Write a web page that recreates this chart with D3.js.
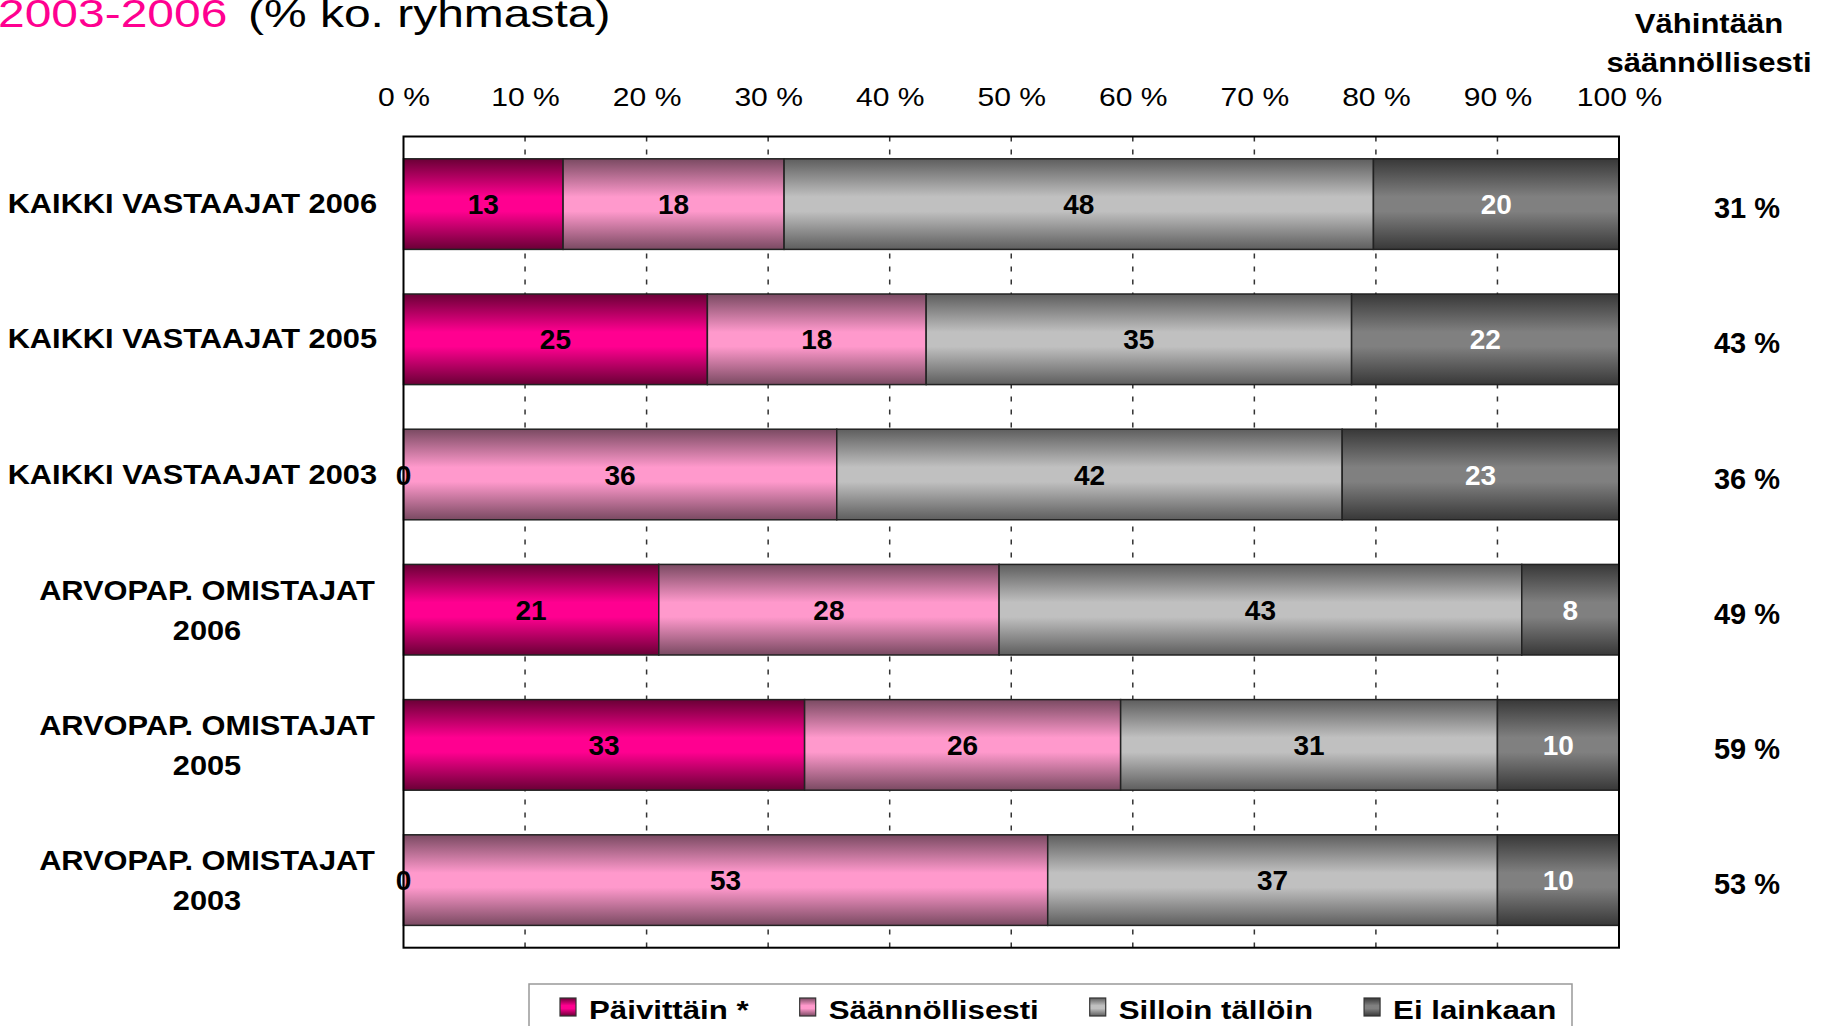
<!DOCTYPE html>
<html>
<head>
<meta charset="utf-8">
<script src="https://cdn.jsdelivr.net/npm/d3@7"></script>
<style>
  html, body { margin: 0; padding: 0; background: #ffffff; overflow: hidden; }
  svg { display: block; font-family: "Liberation Sans", Arial, sans-serif; }
</style>
</head>
<body>
<svg id="chart" width="1832" height="1026"></svg>
<script>
// ---- data ----
const categories = [
  ["KAIKKI VASTAAJAT 2006"],
  ["KAIKKI VASTAAJAT 2005"],
  ["KAIKKI VASTAAJAT 2003"],
  ["ARVOPAP. OMISTAJAT", "2006"],
  ["ARVOPAP. OMISTAJAT", "2005"],
  ["ARVOPAP. OMISTAJAT", "2003"]
];
const seriesNames = ["Päivittäin *", "Säännöllisesti", "Silloin tällöin", "Ei lainkaan"];
const paivittain      = [13, 25, 0, 21, 33, 0];
const saannollisesti  = [18, 18, 36, 28, 26, 53];
const silloinTalloin  = [48, 35, 42, 43, 31, 37];
const eiLainkaan      = [20, 22, 23, 8, 10, 10];
const vahintaan       = [31, 43, 36, 49, 59, 53];
const tickValues = [0, 10, 20, 30, 40, 50, 60, 70, 80, 90, 100];
const tickLabels = ["0 %", "10 %", "20 %", "30 %", "40 %", "50 %", "60 %", "70 %", "80 %", "90 %", "100 %"];
const titleYears = "2003-2006";
const titleRest = "(% ko. ryhmasta)";
const rightHeader = ["Vähintään", "säännöllisesti"];

// ---- styling ----
const seriesStyle = [
  { dark: "#6a0036", bright: "#ff0090", text: "#000" },
  { dark: "#7a4a62", bright: "#ff99cc", text: "#000" },
  { dark: "#5e5e5e", bright: "#c0c0c0", text: "#000" },
  { dark: "#383838", bright: "#808080", text: "#fff" }
];
const seriesData = [paivittain, saannollisesti, silloinTalloin, eiLainkaan];

const svg = d3.select("#chart");
const defs = svg.append("defs");
seriesStyle.forEach((s, i) => {
  const g = defs.append("linearGradient").attr("id", "grad" + i)
    .attr("x1", 0).attr("y1", 0).attr("x2", 0).attr("y2", 1);
  g.append("stop").attr("offset", "0").attr("stop-color", s.dark);
  g.append("stop").attr("offset", "0.42").attr("stop-color", s.bright);
  g.append("stop").attr("offset", "0.58").attr("stop-color", s.bright);
  g.append("stop").attr("offset", "1").attr("stop-color", s.dark);
});

const plot = { left: 403.5, right: 1619, top: 136.5, bottom: 947.7 };
// percentage scale for axis / gridlines
const x = d3.scaleLinear().domain([0, 100]).range([plot.left, plot.right]);
// share scale for normalised (100 %) stacked bars
const xs = d3.scaleLinear().domain([0, 1]).range([plot.left, plot.right]);
const y = d3.scaleBand().domain(d3.range(categories.length))
  .range([plot.top, plot.bottom]).paddingInner(0.33).paddingOuter(0.165);

// stretched text helper
function stext(parent, xx, yy, str, opts) {
  const t = parent.append("text")
    .attr("transform", `translate(${xx},${yy}) scale(${opts.sx || 1},1)`)
    .attr("text-anchor", opts.anchor || "start")
    .attr("font-size", opts.size)
    .attr("font-weight", opts.weight || "normal")
    .attr("fill", opts.fill || "#000")
    .text(str);
  return t;
}

// title (cut at top, as in the original slide)
stext(svg, -2, 27, titleYears, { size: 39, sx: 1.23, fill: "#ff0090" });
stext(svg, 248, 27, titleRest, { size: 39, sx: 1.23 });

// right header
stext(svg, 1709, 33, rightHeader[0], { size: 27, sx: 1.15, weight: "bold", anchor: "middle" });
stext(svg, 1709, 72, rightHeader[1], { size: 27, sx: 1.15, weight: "bold", anchor: "middle" });

// gridlines
svg.append("g").selectAll("line").data(tickValues.filter(v => v > 0 && v < 100)).join("line")
  .attr("x1", d => x(d)).attr("x2", d => x(d))
  .attr("y1", plot.top).attr("y2", plot.bottom)
  .attr("stroke", "#333").attr("stroke-width", 1.5).attr("stroke-dasharray", "5,8");

// top axis
const axis = svg.append("g").attr("transform", `translate(0,${plot.top})`)
  .call(d3.axisTop(x).tickValues(tickValues).tickSize(0).tickPadding(31)
    .tickFormat((d, i) => tickLabels[i]));
axis.select(".domain").remove();
axis.selectAll("text")
  .attr("font-family", "Liberation Sans, Arial, sans-serif")
  .attr("font-size", 25.5).attr("fill", "#000")
  .attr("transform", "scale(1.18,1)");

// stacked bars, normalised to 100 %
const stackRows = categories.map((c, i) => ({
  i, v0: paivittain[i], v1: saannollisesti[i], v2: silloinTalloin[i], v3: eiLainkaan[i]
}));
const stacked = d3.stack().keys(["v0", "v1", "v2", "v3"])
  .offset(d3.stackOffsetExpand)(stackRows);
const barG = svg.append("g");
stacked.forEach((layer, si) => {
  barG.append("g").selectAll("rect").data(layer).join("rect")
    .attr("x", d => xs(d[0]))
    .attr("width", d => xs(d[1]) - xs(d[0]))
    .attr("y", d => y(d.data.i))
    .attr("height", y.bandwidth())
    .attr("fill", `url(#grad${si})`)
    .attr("stroke", "#222").attr("stroke-width", 1.5);
});
// value labels
stacked.forEach((layer, si) => {
  barG.append("g").selectAll("text").data(layer).join("text")
    .attr("x", d => (xs(d[0]) + xs(d[1])) / 2)
    .attr("y", d => y(d.data.i) + y.bandwidth() / 2 + 10)
    .attr("text-anchor", "middle")
    .attr("font-size", 28).attr("font-weight", "bold")
    .attr("fill", seriesStyle[si].text)
    .text(d => seriesData[si][d.data.i]);
});

// plot border
svg.append("rect")
  .attr("x", plot.left).attr("y", plot.top)
  .attr("width", plot.right - plot.left).attr("height", plot.bottom - plot.top)
  .attr("fill", "none").attr("stroke", "#000").attr("stroke-width", 2);

// category labels
categories.forEach((lines, i) => {
  const cy = y(i) + y.bandwidth() / 2;
  if (lines.length === 1) {
    stext(svg, 377, cy + 9, lines[0], { size: 28.5, weight: "bold", anchor: "end", sx: 1.08 });
  } else {
    stext(svg, 207, cy - 10, lines[0], { size: 28.5, weight: "bold", anchor: "middle", sx: 1.08 });
    stext(svg, 207, cy + 30, lines[1], { size: 28.5, weight: "bold", anchor: "middle", sx: 1.08 });
  }
});

// right-side values
vahintaan.forEach((v, i) => {
  const cy = y(i) + y.bandwidth() / 2;
  stext(svg, 1747, cy + 14, v + " %", { size: 29, weight: "bold", anchor: "middle" });
});

// legend
const legG = svg.append("g");
legG.append("rect").attr("x", 529).attr("y", 984).attr("width", 1043).attr("height", 80)
  .attr("fill", "#fff").attr("stroke", "#999").attr("stroke-width", 1.5);
let lx = 560;
seriesNames.forEach((name, i) => {
  legG.append("rect").attr("x", lx).attr("y", 998).attr("width", 16).attr("height", 18)
    .attr("fill", `url(#grad${i})`).attr("stroke", "#333").attr("stroke-width", 1.2);
  const t = stext(legG, lx + 29, 1019, name, { size: 25, weight: "bold", sx: 1.25 });
  const w = t.node().getComputedTextLength() * 1.25;
  lx = lx + 29 + w + 51;
});
</script>
</body>
</html>
